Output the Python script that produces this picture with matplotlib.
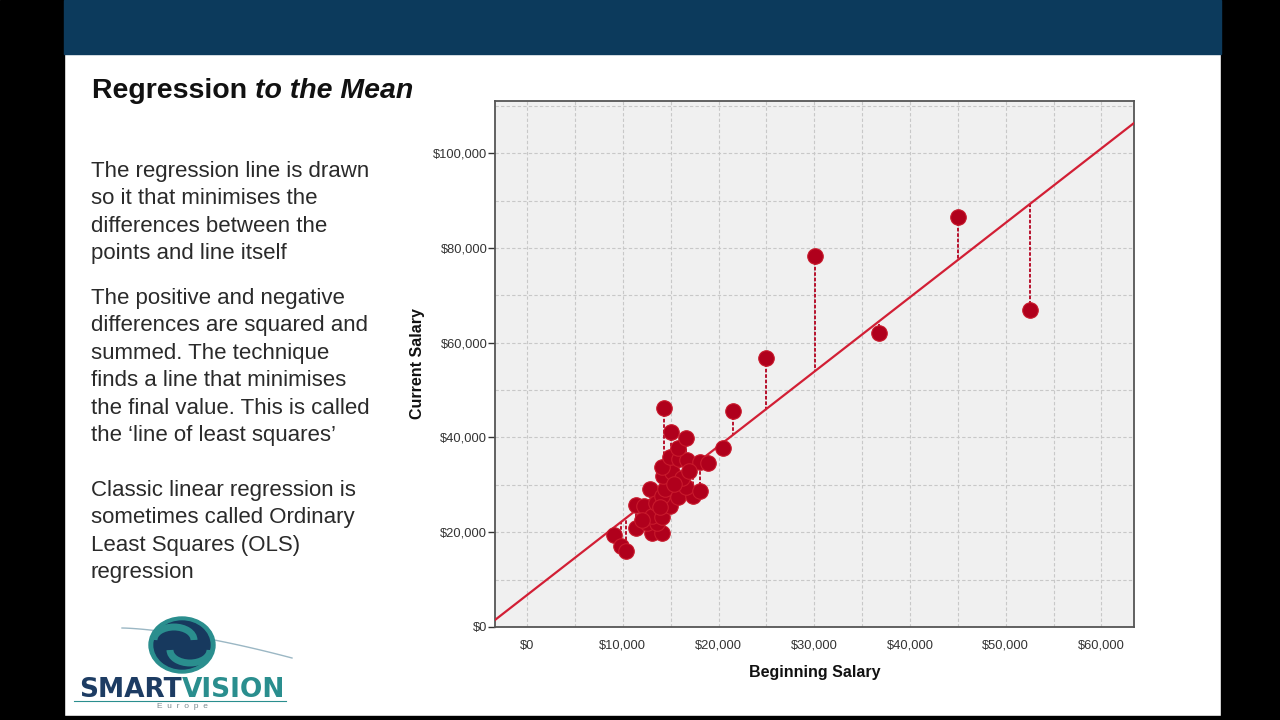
import numpy as np
import matplotlib
matplotlib.use("Agg")
import matplotlib.pyplot as plt
from matplotlib.patches import Rectangle, Ellipse, Arc
from matplotlib.ticker import FuncFormatter

# ---------------- data ----------------
beginning_salary = [9040, 9770, 10310, 11390, 11390, 12230, 12800, 13030, 14080, 12510,
                    13550, 13060, 14080, 13480, 14940, 14080, 14420, 15810, 17380, 16610,
                    18080, 14240, 15120, 16170, 14080, 14890, 15910, 16690, 18030, 18940,
                    15810, 15050, 16580, 14260, 20430, 21530, 24970, 30040, 36780, 45040,
                    52560, 13900, 15300, 12000, 16900]
current_salary = [19400, 17100, 16100, 20800, 25700, 25500, 29200, 19800, 19800, 21900,
                  21900, 23400, 23200, 26200, 25500, 27600, 29100, 27400, 27600, 29500,
                  28700, 31800, 32700, 31400, 33800, 35800, 35400, 35300, 34900, 34600,
                  37800, 41100, 39900, 46200, 37700, 45500, 56800, 78300, 62000, 86500,
                  66900, 25300, 30200, 22600, 33000]
reg_intercept = 6750
reg_slope = 1.571

x_ticks = [0, 10000, 20000, 30000, 40000, 50000, 60000]
y_ticks = [0, 20000, 40000, 60000, 80000, 100000]

title_plain = "Regression "
title_italic = "to the Mean"
para1 = "The regression line is drawn\nso it that minimises the\ndifferences between the\npoints and line itself"
para2 = ("The positive and negative\ndifferences are squared and\nsummed. The technique\n"
         "finds a line that minimises\nthe final value. This is called\nthe \u2018line of least squares\u2019")
para3 = "Classic linear regression is\nsometimes called Ordinary\nLeast Squares (OLS)\nregression"

# ---------------- figure / slide ----------------
plt.rcParams['font.family'] = ['Liberation Sans', 'DejaVu Sans']
W, H = 1280, 720
fig = plt.figure(figsize=(12.8, 7.2), dpi=100)
fig.patch.set_facecolor("white")

def px(x0, y0, w, h):
    return [x0 / W, 1 - (y0 + h) / H, w / W, h / H]

# black side bars
fig.patches.append(Rectangle((0, 0), 64 / W, 1, transform=fig.transFigure, color="black", zorder=0))
fig.patches.append(Rectangle((1221 / W, 0), 1 - 1221 / W, 1, transform=fig.transFigure, color="black", zorder=0))
fig.patches.append(Rectangle((64 / W, 0), (1221 - 64) / W, 4 / H, transform=fig.transFigure, color="black", zorder=0))
# top banner
fig.patches.append(Rectangle((64 / W, 1 - 54 / H), (1221 - 64) / W, 54 / H,
                             transform=fig.transFigure, color="#0C3A5C", zorder=0))

# title
t1 = fig.text(92 / W, 1 - 91 / H, title_plain, fontsize=20.5, fontweight="bold",
              color="#111111", va="center", ha="left")
fig.canvas.draw()
bb = t1.get_window_extent(renderer=fig.canvas.get_renderer())
fig.text(bb.x1 / W, 1 - 91 / H, title_italic, fontsize=20.5, fontweight="bold",
         fontstyle="italic", color="#111111", va="center", ha="left")

# body text
body_kw = dict(fontsize=16, color="#2A2A2A", ha="left", va="top", linespacing=1.40)
fig.text(91 / W, 1 - 161 / H, para1, **body_kw)
fig.text(91 / W, 1 - 288 / H, para2, **body_kw)
fig.text(91 / W, 1 - 480 / H, para3, **body_kw)

# ---------------- chart ----------------
ax = fig.add_axes(px(495, 101, 639, 526))
ax.set_facecolor("#F0F0F0")
ax.set_xlim(-3350, 63400)
ax.set_ylim(0, 111000)

xs = np.array(beginning_salary, dtype=float)
ys = np.array(current_salary, dtype=float)
lx = np.array(ax.get_xlim())
ax.plot(lx, reg_intercept + reg_slope * lx, color="#D21F35", linewidth=1.6, zorder=3)
pred = reg_intercept + reg_slope * xs
ax.vlines(xs, ys, pred, colors="#B4001E", linestyles=(0, (2, 1)), linewidth=1.3, zorder=2)
ax.scatter(xs, ys, s=125, color="#B0001C", edgecolors="#C81A2C", linewidths=0.8, zorder=4)

money = FuncFormatter(lambda v, p: "${:,.0f}".format(v))
ax.set_xticks(x_ticks)
ax.set_yticks(y_ticks)
ax.xaxis.set_major_formatter(money)
ax.yaxis.set_major_formatter(money)
ax.set_xticks([v for v in range(0, 65000, 5000) if v not in x_ticks], minor=True)
ax.set_yticks([10000, 30000, 50000, 70000, 90000, 110000], minor=True)
ax.grid(True, which="both", color="#C8C8C8", linestyle=(0, (3, 2)), linewidth=0.8)
ax.set_axisbelow(True)
ax.tick_params(which="minor", length=0)
ax.tick_params(which="major", length=5, width=1, color="#333333", labelsize=9.3,
               labelcolor="#333333", direction="out", pad=0.5)
ax.tick_params(axis="x", which="major", length=0, pad=9)
for s in ax.spines.values():
    s.set_color("#555555")
    s.set_linewidth(1.3)
ax.set_xlabel("Beginning Salary", fontsize=11.5, fontweight="bold", color="#111111", labelpad=10)
ax.set_ylabel("Current Salary", fontsize=11.5, fontweight="bold", color="#111111", labelpad=6)

# ---------------- logo ----------------
lg = fig.add_axes(px(60, 600, 250, 116))
lg.set_xlim(0, 250)
lg.set_ylim(116, 0)
lg.axis("off")
lg.add_patch(Ellipse((122, 45), 66, 56, color="#2A8E8E", zorder=1))
lg.add_patch(Ellipse((122, 45), 56, 48, color="#17395E", zorder=2))
lg.add_patch(Arc((114, 40), 40, 26, theta1=180, theta2=360, color="#2A8E8E", linewidth=5, zorder=3))
lg.add_patch(Arc((130, 50), 40, 26, theta1=0, theta2=180, color="#2A8E8E", linewidth=5, zorder=3))
tt = np.linspace(0, 1, 50)
lg.plot(62 + 170 * tt, 28 + 30 * tt ** 1.5, color="#9BB7C4", linewidth=1, zorder=0)
lg.text(122, 90, "SMART", fontsize=19, fontweight="bold", color="#1D3C63", ha="right",
        va="center", family="DejaVu Sans")
lg.text(122, 90, "VISION", fontsize=19, fontweight="bold", color="#2A8E8E", ha="left",
        va="center", family="DejaVu Sans")
lg.plot([14, 226], [101, 101], color="#2A8E8E", linewidth=0.8)
lg.text(122, 107, "E  u  r  o  p  e", fontsize=6, color="#7A8A90", ha="center", va="center")

fig.savefig("out.png", dpi=100, facecolor=fig.get_facecolor())
